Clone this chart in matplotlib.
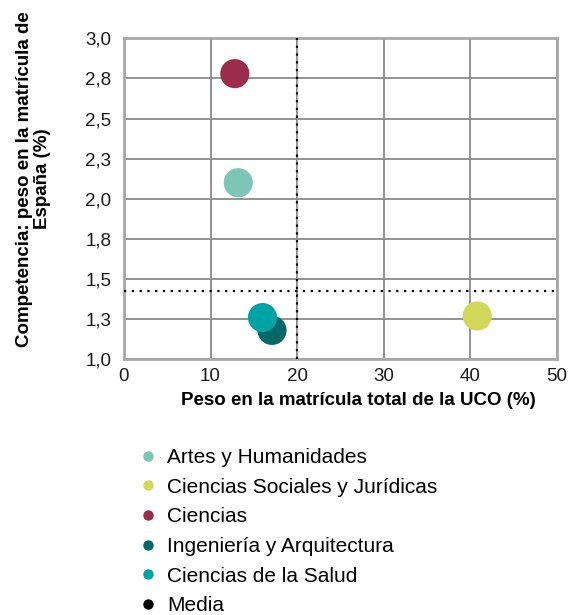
import matplotlib
matplotlib.use("Agg")
import matplotlib.pyplot as plt
from matplotlib.ticker import FuncFormatter
from matplotlib.lines import Line2D

plt.rcParams['font.family'] = ['Liberation Sans', 'DejaVu Sans']

ramas = ['Artes y Humanidades', 'Ciencias Sociales y Jurídicas', 'Ciencias',
         'Ingeniería y Arquitectura', 'Ciencias de la Salud']
peso_uco = [13.2, 40.8, 12.8, 17.1, 16.0]
peso_espana = [2.10, 1.27, 2.78, 1.18, 1.26]
colores = ['#7DC6B4', '#D2D95A', '#9B2C4C', '#006867', '#00A3A3']

media_x = 20.0
media_y = 1.425

fig = plt.figure(figsize=(5.7, 6.15), dpi=100)
ax = fig.add_axes([0.2175, 0.4158, 0.7595, 0.5219])

for nombre, x, y, c in zip(ramas, peso_uco, peso_espana, colores):
    ax.scatter(x, y, s=440, color=c, edgecolors='none', zorder=4, label=nombre)

ax.axvline(media_x, color='black', linestyle=(0, (1, 2.5)), lw=1.6, zorder=3)
ax.axhline(media_y, color='black', linestyle=(0, (1, 2.5)), lw=1.6, zorder=3)

ax.set_xlim(0, 50)
ax.set_ylim(1.0, 3.0)
ax.set_xticks(range(0, 51, 10))
ax.set_yticks([1.0 + 0.25 * i for i in range(9)])
ax.yaxis.set_major_formatter(FuncFormatter(
    lambda v, p: ('%.1f' % (round(v * 10 + 1e-6) / 10)).replace('.', ',')))
ax.grid(True, color='#8a8a8a', lw=1.3, zorder=0)
ax.set_axisbelow(True)
for s in ax.spines.values():
    s.set_color('#a8a8a8')
    s.set_linewidth(2)
ax.tick_params(length=0, labelsize=13.5, colors='#1a1a1a')
ax.tick_params(axis='x', pad=6.5)
ax.tick_params(axis='y', pad=9)

ax.set_xlabel('Peso en la matrícula total de la UCO (%)', fontsize=13.5,
              fontweight='bold')
ax.xaxis.set_label_coords(0.5416, -0.102)
ax.set_ylabel('Competencia: peso en la matrícula de\nEspaña (%)', fontsize=13.5,
              fontweight='bold', linespacing=1.05)
ax.yaxis.set_label_coords(-0.1686, 0.5617)

handles = [Line2D([], [], marker='o', ls='none', markersize=7.5,
                  markerfacecolor=c, markeredgecolor='none') for c in colores]
handles.append(Line2D([], [], marker='o', ls='none', markersize=7.5,
                      markerfacecolor='black', markeredgecolor='none'))
leg = fig.legend(handles, ramas + ['Media'], loc='upper left',
                 bbox_to_anchor=(0.232, 0.285), frameon=False, fontsize=15,
                 handlelength=0.7, handletextpad=0.56, labelspacing=0.51,
                 borderaxespad=0)

fig.savefig('out.png', dpi=100)
